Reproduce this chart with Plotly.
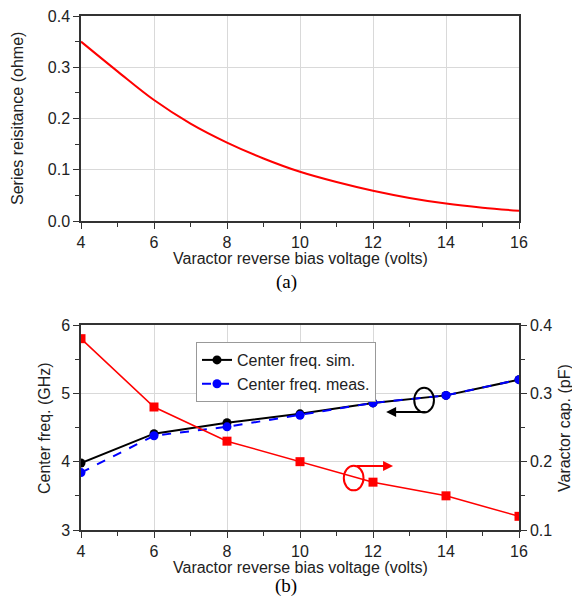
import plotly.graph_objects as go

# ---- data ----
volt_fine = [4, 5, 6, 7, 8, 9, 10, 11, 12, 13, 14, 15, 16]
series_res = [0.35, 0.292, 0.236, 0.19, 0.153, 0.122, 0.096, 0.076, 0.059, 0.045, 0.034, 0.026, 0.020]

volt = [4, 6, 8, 10, 12, 14, 16]
freq_sim = [3.98, 4.41, 4.57, 4.70, 4.86, 4.97, 5.20]
freq_meas = [3.84, 4.38, 4.51, 4.68, 4.86, 4.97, 5.20]
var_cap = [0.38, 0.28, 0.23, 0.20, 0.17, 0.15, 0.12]

x_ticks = [4, 6, 8, 10, 12, 14, 16]
x_title = "Varactor reverse bias voltage (volts)"

FONT = "Liberation Sans, Arial, sans-serif"
SERIF = "Liberation Serif, Times New Roman, serif"
AXC = "#333333"
GRID = "#d9d9d9"
TXT = "#222222"

W, H = 572, 603
L, R, T, B = 81, 53, 16, 73
PW, PH = W - L - R, H - T - B


def px_x(px):
    return (px - L) / PW


def px_y(py):
    return 1 - (py - T) / PH


fig = go.Figure()

fig.add_trace(go.Scatter(x=volt_fine, y=series_res, mode="lines",
                         line=dict(color="#ff0000", width=2, shape="spline"),
                         xaxis="x", yaxis="y", showlegend=False))

fig.add_trace(go.Scatter(x=volt, y=freq_sim, mode="lines+markers", name="Center freq. sim.",
                         line=dict(color="black", width=2),
                         marker=dict(symbol="circle", size=9, color="black"),
                         xaxis="x2", yaxis="y2"))
fig.add_trace(go.Scatter(x=volt, y=freq_meas, mode="lines+markers", name="Center freq. meas.",
                         line=dict(color="#0000ff", width=2, dash="dash"),
                         marker=dict(symbol="circle", size=9, color="#0000ff"),
                         xaxis="x2", yaxis="y2"))
fig.add_trace(go.Scatter(x=volt, y=var_cap, mode="lines+markers", name="Varactor cap.",
                         line=dict(color="#ff0000", width=1.5),
                         marker=dict(symbol="square", size=9, color="#ff0000"),
                         xaxis="x2", yaxis="y3", showlegend=False))

top_dom = [px_y(221), 1.0]
bot_dom = [0.0, px_y(325)]

common = dict(showline=True, linecolor=AXC, linewidth=1.5,
              ticks="outside", ticklen=6, tickwidth=1.2, tickcolor=AXC,
              zeroline=False, automargin=False,
              tickfont=dict(family=FONT, size=16, color=TXT))


def xax(anchor):
    return dict(domain=[0, 1], anchor=anchor, range=[4, 16], tickvals=x_ticks, mirror=True,
                minor=dict(ticks="outside", ticklen=4, dtick=1, tickcolor=AXC, showgrid=False),
                showgrid=True, gridcolor=GRID, gridwidth=1, **common)


fig.update_layout(
    width=W, height=H,
    margin=dict(l=L, r=R, t=T, b=B),
    paper_bgcolor="white", plot_bgcolor="white",
    font=dict(family=FONT, size=16, color=TXT),
    xaxis=xax("y"),
    yaxis=dict(domain=top_dom, anchor="x", range=[0, 0.4], tickvals=[0, 0.1, 0.2, 0.3, 0.4],
               tickformat=".1f", mirror=True,
               minor=dict(ticks="outside", ticklen=4, dtick=0.05, tickcolor=AXC, showgrid=False),
               showgrid=True, gridcolor=GRID, **common),
    xaxis2=xax("y2"),
    yaxis2=dict(domain=bot_dom, anchor="x2", range=[3, 6], tickvals=[3, 4, 5, 6],
                minor=dict(ticks="outside", ticklen=4, dtick=0.5, tickcolor=AXC, showgrid=False),
                showgrid=True, gridcolor=GRID, **common),
    yaxis3=dict(overlaying="y2", anchor="x2", side="right", range=[0.1, 0.4],
                tickvals=[0.1, 0.2, 0.3, 0.4], tickformat=".1f",
                minor=dict(ticks="outside", ticklen=4, dtick=0.05, tickcolor=AXC, showgrid=False),
                showgrid=False, **common),
    legend=dict(x=px_x(196), y=px_y(342), xanchor="left", yanchor="top",
                bgcolor="white", bordercolor="#999999", borderwidth=1,
                font=dict(family=FONT, size=16, color=TXT),
                tracegroupgap=0, itemwidth=30),
    showlegend=True,
)

# axis titles
title_font = dict(family=FONT, size=16, color=TXT)
fig.add_annotation(text=x_title, xref="paper", yref="paper", x=0.5, y=px_y(258),
                   showarrow=False, font=title_font, yanchor="middle")
fig.add_annotation(text=x_title, xref="paper", yref="paper", x=0.5, y=px_y(567),
                   showarrow=False, font=title_font, yanchor="middle")
fig.add_annotation(text="Series reisitance (ohme)", xref="paper", yref="paper",
                   x=px_x(18), y=px_y(119), textangle=-90, showarrow=False,
                   font=title_font, xanchor="center", yanchor="middle")
fig.add_annotation(text="Center freq. (GHz)", xref="paper", yref="paper",
                   x=px_x(44), y=px_y(428), textangle=-90, showarrow=False,
                   font=title_font, xanchor="center", yanchor="middle")
fig.add_annotation(text="Varactor cap. (pF)", xref="paper", yref="paper",
                   x=px_x(564), y=px_y(428), textangle=-90, showarrow=False,
                   font=title_font, xanchor="center", yanchor="middle")

# ellipses (which axis belongs to which curve)
fig.add_shape(type="circle", xref="x2", yref="y2", x0=13.13, x1=13.67, y0=4.72, y1=5.08,
              line=dict(color="black", width=2))
fig.add_shape(type="circle", xref="x2", yref="y2", x0=11.20, x1=11.74, y0=3.58, y1=3.94,
              line=dict(color="#ff0000", width=2))

fig.add_annotation(x=12.36, y=4.727, ax=13.48, ay=4.727, xref="x2", yref="y2",
                   axref="x2", ayref="y2", showarrow=True, arrowhead=2, arrowsize=1,
                   arrowwidth=2, arrowcolor="black", text="")
fig.add_annotation(x=12.55, y=3.937, ax=11.51, ay=3.937, xref="x2", yref="y2",
                   axref="x2", ayref="y2", showarrow=True, arrowhead=2, arrowsize=1,
                   arrowwidth=2, arrowcolor="#ff0000", text="")

fig.add_annotation(text="(a)", xref="paper", yref="paper", x=px_x(286), y=px_y(282),
                   showarrow=False, yanchor="middle",
                   font=dict(family=SERIF, size=19, color="black"))
fig.add_annotation(text="(b)", xref="paper", yref="paper", x=px_x(286), y=px_y(586),
                   showarrow=False, yanchor="middle",
                   font=dict(family=SERIF, size=19, color="black"))

fig.write_html("out.html", config={"displayModeBar": False},
               post_script="document.body.style.margin='0';document.body.style.padding='0';")
